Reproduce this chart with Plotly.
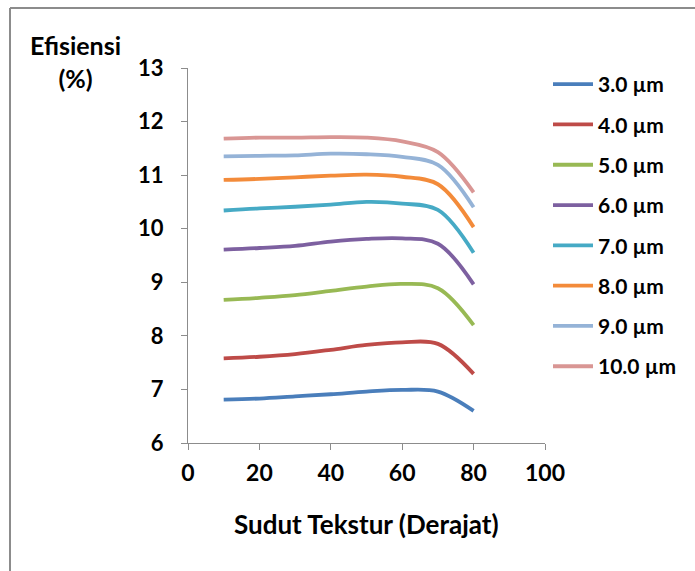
import plotly.graph_objects as go

# Texture angle (degrees) and efficiency (%) for each texture depth
sudut = [10, 20, 30, 40, 50, 60, 70, 80]

series_names = ["3.0 µm", "4.0 µm", "5.0 µm", "6.0 µm",
                "7.0 µm", "8.0 µm", "9.0 µm", "10.0 µm"]

eff_3um = [6.81, 6.83, 6.87, 6.91, 6.96, 6.99, 6.96, 6.60]
eff_4um = [7.58, 7.61, 7.66, 7.74, 7.83, 7.88, 7.85, 7.29]
eff_5um = [8.67, 8.71, 8.76, 8.84, 8.92, 8.97, 8.89, 8.20]
eff_6um = [9.61, 9.64, 9.68, 9.76, 9.81, 9.82, 9.72, 8.96]
eff_7um = [10.34, 10.38, 10.41, 10.45, 10.50, 10.47, 10.35, 9.55]
eff_8um = [10.91, 10.93, 10.96, 10.99, 11.01, 10.97, 10.83, 10.03]
eff_9um = [11.35, 11.36, 11.37, 11.40, 11.39, 11.34, 11.19, 10.40]
eff_10um = [11.68, 11.70, 11.70, 11.71, 11.70, 11.63, 11.43, 10.68]

all_series = [eff_3um, eff_4um, eff_5um, eff_6um,
              eff_7um, eff_8um, eff_9um, eff_10um]

colors = ["#4A7EBB", "#BE4B48", "#98B954", "#7D60A0",
          "#46AAC5", "#F38B3A", "#95B3D7", "#D99694"]

x_ticks = [0, 20, 40, 60, 80, 100]
y_ticks = [6, 7, 8, 9, 10, 11, 12, 13]

FONT = "Lato, 'Open Sans', sans-serif"
AXIS_GRAY = "#8C8C8C"

fig = go.Figure()
for i, (name, vals, col) in enumerate(zip(series_names, all_series, colors)):
    fig.add_trace(go.Scatter(
        x=sudut, y=vals, name=name, mode="lines",
        line=dict(color=col, width=3.8, shape="spline", smoothing=1.0),
        legendgroup=f"g{i}",
    ))

# plot area spans x 188..545 px, y 68..443 px
L, R, T, B = 188, 150, 68, 128
W, H = 695, 571
pw, ph = W - L - R, H - T - B


def px_to_paper_x(px):
    return (px - L) / pw


def py_to_paper_y(py):
    return (H - B - py) / ph


fig.update_layout(
    width=W, height=H,
    margin=dict(l=L, r=R, t=T, b=B),
    paper_bgcolor="white", plot_bgcolor="white",
    font=dict(family=FONT, size=18, color="black"),
    showlegend=True,
    legend=dict(
        x=px_to_paper_x(548), y=py_to_paper_y(64),
        xanchor="left", yanchor="top",
        font=dict(family=FONT, size=21, color="black", weight="bold"),
        tracegroupgap=10,
        itemwidth=40,
        maxheight=520,
        bgcolor="rgba(0,0,0,0)",
    ),
    xaxis=dict(
        range=[0, 100], tickvals=x_ticks, showgrid=False, zeroline=False,
        showline=True, linecolor=AXIS_GRAY, linewidth=1.3,
        ticks="outside", ticklen=6, tickcolor=AXIS_GRAY, tickwidth=1.3,
        tickfont=dict(family=FONT, size=23, weight="bold"),
        ticklabelstandoff=3,
    ),
    yaxis=dict(
        range=[6, 13], tickvals=y_ticks, showgrid=False, zeroline=False,
        showline=True, linecolor=AXIS_GRAY, linewidth=1.3,
        ticks="outside", ticklen=6, tickcolor=AXIS_GRAY, tickwidth=1.3,
        tickfont=dict(family=FONT, size=22, weight="bold"),
        ticklabelstandoff=13,
    ),
)

fig.add_annotation(
    text="<b>Efisiensi</b><br><b>(%)</b>",
    xref="paper", yref="paper",
    x=px_to_paper_x(75), y=py_to_paper_y(61),
    xanchor="center", yanchor="middle", showarrow=False,
    font=dict(family=FONT, size=25, color="black"), align="center",
)
fig.add_annotation(
    text="<b>Sudut Tekstur (Derajat)</b>",
    xref="paper", yref="paper",
    x=px_to_paper_x(366), y=py_to_paper_y(524),
    xanchor="center", yanchor="middle", showarrow=False,
    font=dict(family=FONT, size=26, color="black"),
)

# chart frame: top and left edges
fig.add_shape(type="line", xref="paper", yref="paper",
              x0=px_to_paper_x(10), y0=py_to_paper_y(8),
              x1=px_to_paper_x(W + 5), y1=py_to_paper_y(8),
              line=dict(color=AXIS_GRAY, width=2))
fig.add_shape(type="line", xref="paper", yref="paper",
              x0=px_to_paper_x(10), y0=py_to_paper_y(8),
              x1=px_to_paper_x(10), y1=py_to_paper_y(H + 5),
              line=dict(color=AXIS_GRAY, width=2))

fig.write_html("out.html")
